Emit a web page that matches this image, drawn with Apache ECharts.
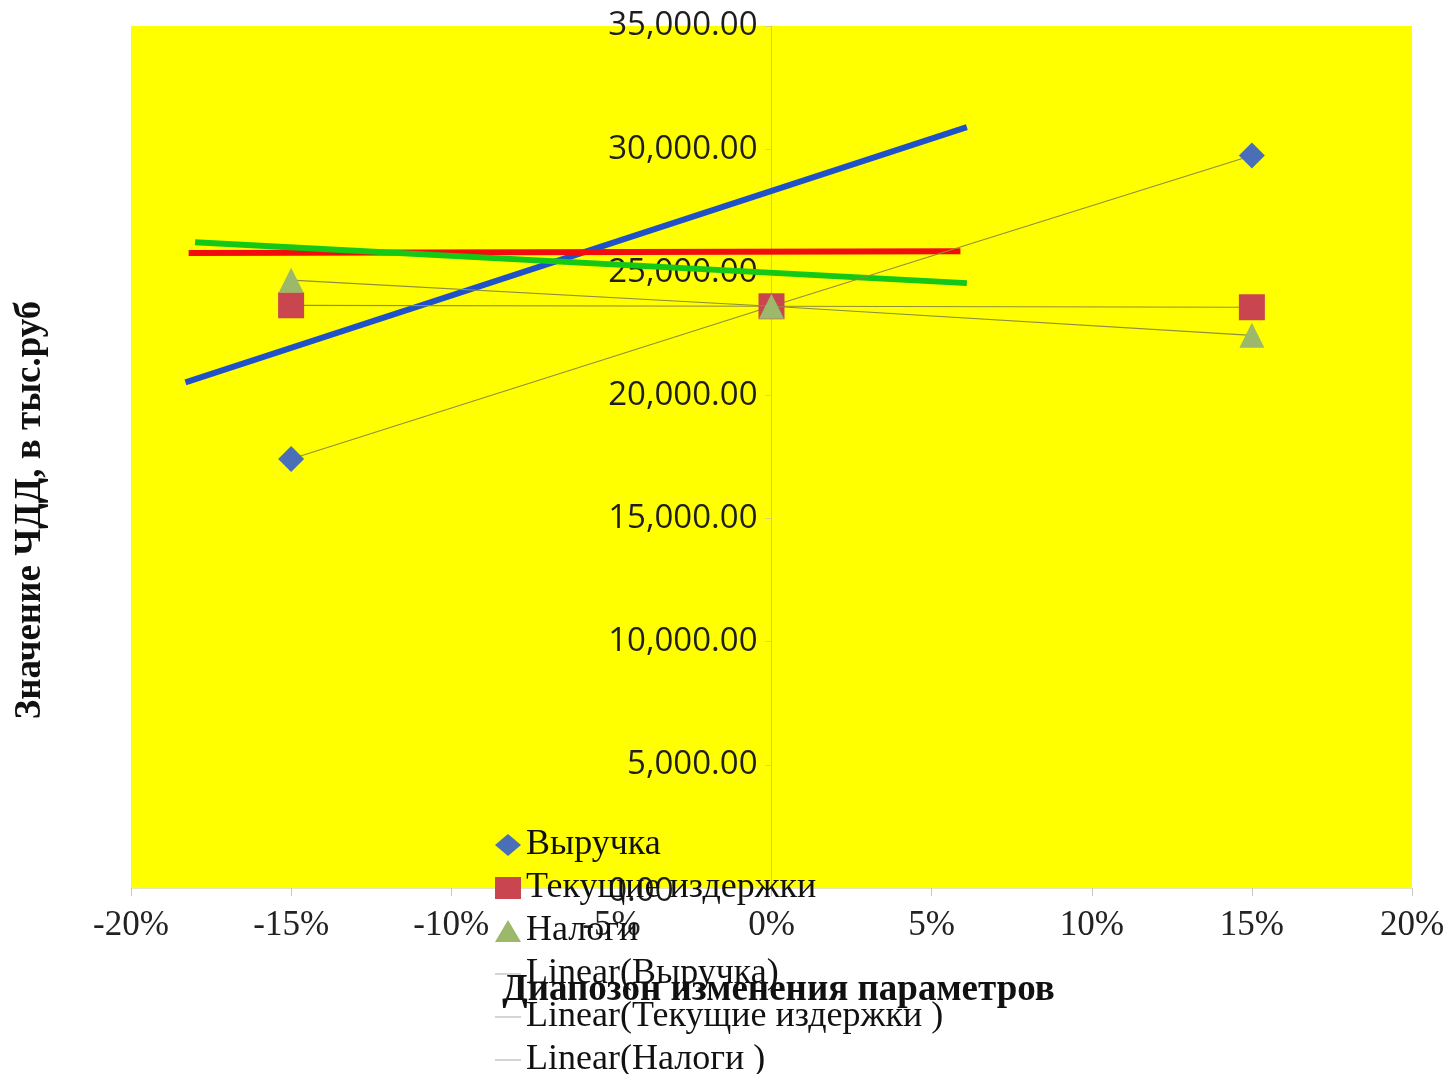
<!DOCTYPE html>
<html>
<head>
<meta charset="utf-8">
<script src="https://cdn.jsdelivr.net/npm/echarts@6/dist/echarts.min.js"></script>
<style>
html,body{margin:0;padding:0;background:#fff;}
#chart{width:1453px;height:1074px;}
</style>
</head>
<body>
<div id="chart"></div>
<script>
// ---- data (x in %, y in тыс.руб) ----
const xValues = [-15, 0, 15];
const revenue = [17420, 23620, 29740];      // Выручка
const costs = [23660, 23620, 23580];        // Текущие издержки
const taxes = [24680, 23620, 22440];        // Налоги

// trendline endpoints as drawn in the reference
const revenueTrendX = [-18.3, 6.1];
const revenueTrendY = [20530, 30890];
const costsTrendX = [-18.2, 5.9];
const costsTrendY = [25780, 25850];
const taxesTrendX = [-18.0, 6.1];
const taxesTrendY = [26220, 24560];

const seriesNames = ['Выручка', 'Текущие издержки', 'Налоги'];
const trendNames = ['Linear(Выручка)', 'Linear(Текущие издержки )', 'Linear(Налоги )'];
const xAxisTitle = 'Диапозон изменения параметров';
const yAxisTitle = 'Значение ЧДД, в тыс.руб';

const zip = (xs, ys) => xs.map((x, i) => [x, ys[i]]);

const GRID_LEFT = 131, GRID_RIGHT = 41, W = 1453;
const xMin = -20, xMax = 20;
// place the y axis at x = 0 (as in the reference) via offset
const plotW = W - GRID_LEFT - GRID_RIGHT;
const yAxisOffset = -plotW * (0 - xMin) / (xMax - xMin);

const chart = echarts.init(document.getElementById('chart'), null, {renderer: 'canvas'});
const serif = '"Liberation Serif", "Times New Roman", serif';
const thinLine = '#8f8f3a';
const legendLine = 'path://M0,0H40V1.4H0Z';
const fmtY = v => v.toLocaleString('en-US', {minimumFractionDigits: 2, maximumFractionDigits: 2});

chart.setOption({
  animation: false,
  backgroundColor: '#ffffff',
  grid: {
    left: GRID_LEFT, right: GRID_RIGHT, top: 26, bottom: 186,
    containLabel: false, outerBoundsMode: 'none',
    show: true, backgroundColor: '#ffff00', borderWidth: 0
  },
  xAxis: {
    type: 'value', min: xMin, max: xMax, interval: 5,
    axisLine: {show: true, onZero: false, lineStyle: {color: '#e4e4c0', width: 1}},
    axisTick: {show: true, length: 8, lineStyle: {color: '#c8c8c8'}},
    splitLine: {show: false},
    axisLabel: {
      formatter: v => v + '%', margin: 20,
      fontFamily: serif, fontSize: 35, color: '#222'
    },
    name: xAxisTitle, nameLocation: 'middle', nameGap: 84,
    nameTextStyle: {fontFamily: serif, fontSize: 37, fontWeight: 'bold', color: '#111', padding: [0, 0, 0, 14]}
  },
  yAxis: {
    type: 'value', min: 0, max: 35000, interval: 5000,
    position: 'left', offset: yAxisOffset,
    axisLine: {show: true, onZero: false, lineStyle: {color: '#d0c860', width: 1}},
    axisTick: {show: true, length: 6, lineStyle: {color: '#d8d070'}},
    splitLine: {show: false},
    axisLabel: {
      formatter: v => v === 0 ? '{z|' + fmtY(v) + '}' : fmtY(v),
      margin: 14, fontFamily: '"Open Sans", "Noto Sans", sans-serif', fontSize: 33, color: '#1e1e1e',
      rich: {z: {fontFamily: '"Open Sans", "Noto Sans", sans-serif', fontSize: 33, color: '#1e1e1e', padding: [8, 84, 0, 0]}}
    }
  },
  legend: {
    orient: 'vertical', left: 495, top: 827, itemGap: 7, padding: 0,
    height: 400,
    itemWidth: 26, itemHeight: 22,
    textStyle: {fontFamily: serif, fontSize: 36, color: '#111'},
    data: [
      {name: seriesNames[0], icon: 'diamond'},
      {name: seriesNames[1], icon: 'rect'},
      {name: seriesNames[2], icon: 'triangle'},
      {name: trendNames[0], icon: legendLine, itemStyle: {color: '#a0a0a0'}},
      {name: trendNames[1], icon: legendLine, itemStyle: {color: '#a0a0a0'}},
      {name: trendNames[2], icon: legendLine, itemStyle: {color: '#a0a0a0'}}
    ]
  },
  graphic: [{
    type: 'text', x: 30, y: 510, rotation: Math.PI / 2,
    style: {
      text: yAxisTitle, fontFamily: serif, fontSize: 37, fontWeight: 'bold',
      fill: '#111', align: 'center', verticalAlign: 'middle'
    }
  }],
  series: [
    {
      name: seriesNames[0], type: 'line', data: zip(xValues, revenue), z: 5,
      symbol: 'diamond', symbolSize: 26,
      lineStyle: {color: thinLine, width: 1.2},
      itemStyle: {color: '#4a6fb8', borderWidth: 0}
    },
    {
      name: seriesNames[1], type: 'line', data: zip(xValues, costs), z: 6,
      symbol: 'rect', symbolSize: 26,
      lineStyle: {color: thinLine, width: 1.2},
      itemStyle: {color: '#c9454f', borderWidth: 0}
    },
    {
      name: seriesNames[2], type: 'line', data: zip(xValues, taxes), z: 7,
      symbol: 'triangle', symbolSize: 25,
      lineStyle: {color: thinLine, width: 1.2},
      itemStyle: {color: '#9cb86a', borderWidth: 0}
    },
    {
      name: trendNames[0], type: 'line', data: zip(revenueTrendX, revenueTrendY), z: 2,
      showSymbol: false, symbol: 'none',
      lineStyle: {color: '#1f52c8', width: 6},
      itemStyle: {color: '#1f52c8'}
    },
    {
      name: trendNames[1], type: 'line', data: zip(costsTrendX, costsTrendY), z: 3,
      showSymbol: false, symbol: 'none',
      lineStyle: {color: '#f20c0c', width: 6},
      itemStyle: {color: '#f20c0c'}
    },
    {
      name: trendNames[2], type: 'line', data: zip(taxesTrendX, taxesTrendY), z: 4,
      showSymbol: false, symbol: 'none',
      lineStyle: {color: '#14c814', width: 6},
      itemStyle: {color: '#14c814'}
    }
  ]
});
</script>
</body>
</html>
